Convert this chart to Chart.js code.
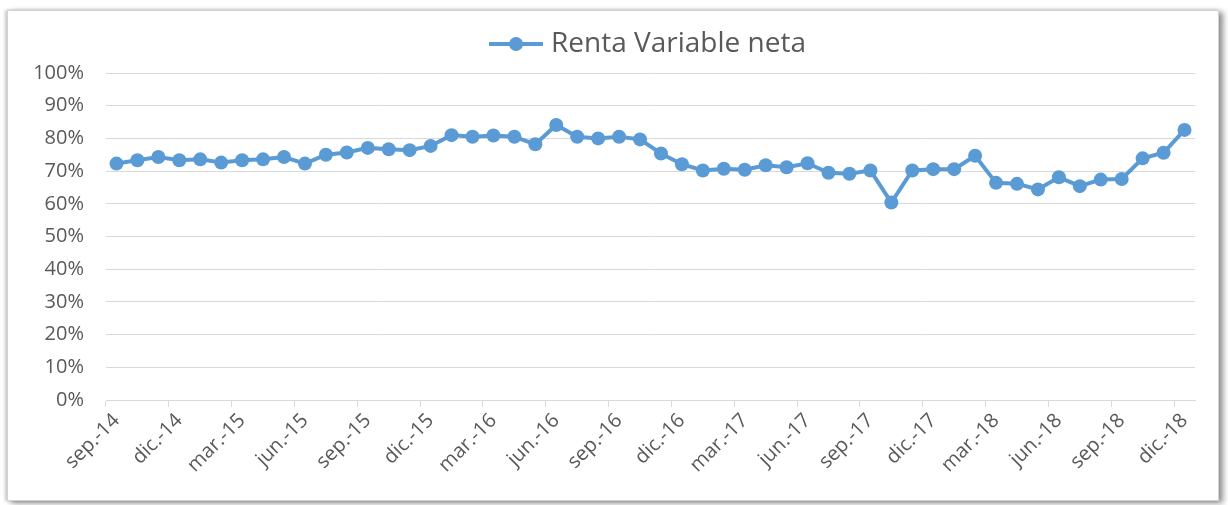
<!DOCTYPE html>
<html>
<head>
<meta charset="utf-8">
<script src="https://cdn.jsdelivr.net/npm/chart.js@4.4.1/dist/chart.umd.min.js"></script>
<style>
  html, body { margin: 0; padding: 0; background: #fff; }
  body { width: 1228px; height: 505px; position: relative; overflow: hidden; }
  #marco {
    position: absolute; left: 7px; top: 10px; width: 1210px; height: 489px;
    border: 1px solid #d4d4d4; background: #fff;
    box-shadow: 4px 2px 6px rgba(0, 0, 0, 0.45), -2px 0 3px rgba(0, 0, 0, 0.2);
  }
  #lienzo { position: absolute; left: 0; top: 0; width: 1228px; height: 505px; }
</style>
</head>
<body>
<div id="marco"></div>
<div id="lienzo"><canvas id="grafico"></canvas></div>
<script>
// Meses de la serie (sep.-14 a dic.-18)
const etiquetas = [
  'sep.-14', 'oct.-14', 'nov.-14', 'dic.-14',
  'ene.-15', 'feb.-15', 'mar.-15', 'abr.-15', 'may.-15', 'jun.-15', 'jul.-15', 'ago.-15', 'sep.-15', 'oct.-15', 'nov.-15', 'dic.-15',
  'ene.-16', 'feb.-16', 'mar.-16', 'abr.-16', 'may.-16', 'jun.-16', 'jul.-16', 'ago.-16', 'sep.-16', 'oct.-16', 'nov.-16', 'dic.-16',
  'ene.-17', 'feb.-17', 'mar.-17', 'abr.-17', 'may.-17', 'jun.-17', 'jul.-17', 'ago.-17', 'sep.-17', 'oct.-17', 'nov.-17', 'dic.-17',
  'ene.-18', 'feb.-18', 'mar.-18', 'abr.-18', 'may.-18', 'jun.-18', 'jul.-18', 'ago.-18', 'sep.-18', 'oct.-18', 'nov.-18', 'dic.-18'
];

// Renta Variable neta (%)
const rentaVariable = [
  72.3, 73.3, 74.3, 73.3, 73.6, 72.6, 73.3, 73.6, 74.3, 72.3, 75.0, 75.7,
  77.1, 76.7, 76.4, 77.7, 81.0, 80.5, 80.9, 80.5, 78.2, 84.1, 80.5, 80.0,
  80.5, 79.7, 75.4, 72.1, 70.2, 70.7, 70.4, 71.8, 71.2, 72.4, 69.5, 69.2,
  70.2, 60.4, 70.2, 70.6, 70.6, 74.7, 66.4, 66.1, 64.4, 68.1, 65.4, 67.4,
  67.6, 73.9, 75.6, 82.6
];

const azul = '#5B9BD5';
const gris = '#595959';
const rejilla = '#d9d9d9';
const fuente = "'Open Sans', sans-serif";

// Icono de la leyenda: linea con marcador
const icono = document.createElement('canvas');
icono.width = 54;
icono.height = 16;
const ic = icono.getContext('2d');
ic.strokeStyle = azul;
ic.lineWidth = 4;
ic.beginPath();
ic.moveTo(0, 8);
ic.lineTo(54, 8);
ic.stroke();
ic.fillStyle = azul;
ic.beginPath();
ic.arc(27, 8, 7, 0, Math.PI * 2);
ic.fill();

const grafico = new Chart(document.getElementById('grafico').getContext('2d'), {
  type: 'line',
  data: {
    labels: etiquetas,
    datasets: [{
      label: 'Renta Variable neta',
      data: rentaVariable,
      borderColor: azul,
      backgroundColor: azul,
      borderWidth: 4,
      pointRadius: 7,
      pointHoverRadius: 7,
      pointBorderWidth: 0,
      pointBackgroundColor: azul,
      tension: 0,
      fill: false,
    }],
  },
  options: {
    responsive: true,
    maintainAspectRatio: false,
    animation: false,
    layout: { padding: { top: 20, left: 32, right: 33, bottom: 0 } },
    plugins: {
      tooltip: { enabled: false },
      legend: {
        position: 'top',
        fullSize: false,
        labels: {
          usePointStyle: true,
          pointStyle: icono,
          pointStyleWidth: 42,
          padding: 10,
          color: gris,
          font: { family: fuente, size: 28 },
        },
      },
      // separador entre la leyenda y el area del grafico
      title: {
        display: true,
        text: '',
        weight: 500,
        font: { size: 1, lineHeight: 1 },
        padding: { top: 0, bottom: 4 },
      },
    },
    scales: {
      x: {
        offset: true,
        grid: {
          offset: true,
          drawOnChartArea: false,
          tickLength: 7,
          color: ctx => (ctx.index % 3 === 0 ? rejilla : 'transparent'),
        },
        border: { color: rejilla },
        ticks: {
          autoSkip: false,
          minRotation: 45,
          maxRotation: 45,
          padding: 2,
          color: gris,
          font: { family: fuente, size: 20 },
          callback: (v, i) => (i % 3 === 0 ? etiquetas[i] : ''),
        },
        afterFit: s => { s.height = 105; },
      },
      y: {
        min: 0,
        max: 100,
        grid: { color: rejilla, drawTicks: false },
        border: { display: false },
        ticks: {
          stepSize: 10,
          padding: 22,
          color: gris,
          font: { family: fuente, size: 20 },
          callback: v => v + '%',
        },
        afterFit: s => { s.width = 74; },
      },
    },
  },
});
</script>
</body>
</html>
